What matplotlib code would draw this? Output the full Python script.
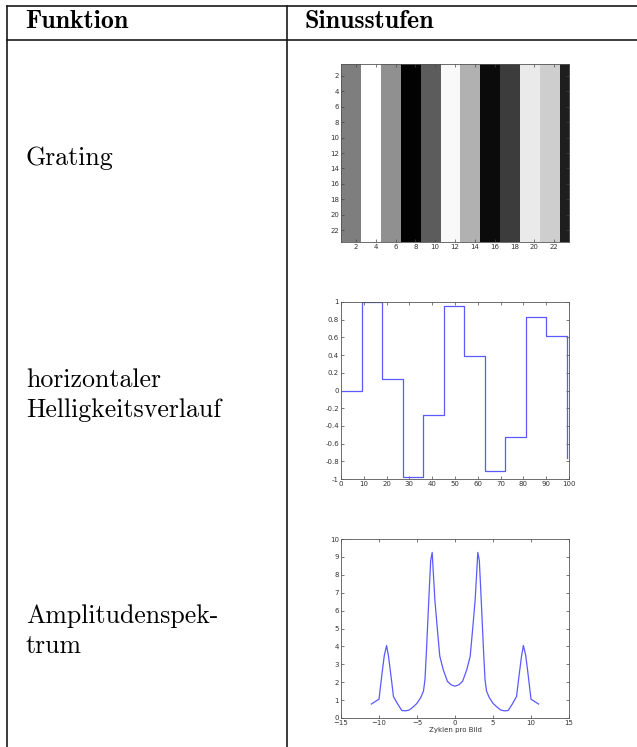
import numpy as np
import matplotlib
matplotlib.use("Agg")
import matplotlib.pyplot as plt
from matplotlib.lines import Line2D

# Sinusstufen: Stufenwerte (auch Grauwerte des Gratings)
stufen_kanten = [0, 9, 18, 27, 36, 45, 54, 63, 72, 81, 90, 99]
stufen_werte = [-0.01, 0.997, 0.13, -0.98, -0.275, 0.95, 0.39, -0.91, -0.52, 0.835, 0.615, -0.76]

# Grating 23x23, je Stufe 2 Spalten
grating_pixel = 23

# Amplitudenspektrum
spek_x = [-11.0, -10.0, -9.6, -9.3, -9.0, -8.75, -8.35, -8.1, -7.5, -7.0, -6.5, -6.0,
          -5.5, -5.0, -4.5, -4.15, -3.95, -3.75, -3.45, -3.2, -3.0, -2.85, -2.65,
          -2.35, -2.0, -1.55, -1.0, -0.5, 0.0,
          0.5, 1.0, 1.55, 2.0, 2.35, 2.65, 2.85, 3.0, 3.2, 3.45, 3.75, 3.95, 4.15,
          4.5, 5.0, 5.5, 6.0, 6.5, 7.0, 7.5, 8.1, 8.35, 8.75, 9.0, 9.3, 9.6, 10.0, 11.0]
spek_y = [0.78, 1.05, 2.5, 3.5, 4.05, 3.45, 2.1, 1.2, 0.75, 0.42, 0.4, 0.45,
          0.62, 0.82, 1.15, 1.5, 2.15, 3.8, 6.6, 8.8, 9.25, 8.1, 6.6,
          5.1, 3.45, 2.7, 2.05, 1.85, 1.78,
          1.85, 2.05, 2.7, 3.45, 5.1, 6.6, 8.1, 9.25, 8.8, 6.6, 3.8, 2.15, 1.5,
          1.15, 0.82, 0.62, 0.45, 0.4, 0.42, 0.75, 1.2, 2.1, 3.45, 4.05, 3.5, 2.5, 1.05, 0.78]

W, H = 637, 747
fig = plt.figure(figsize=(W / 100, H / 100), dpi=100)

def fx(px):
    return px / W

def fy(py):
    return 1 - py / H

# Tabellenlinien
lc = '#1a1a1a'
for (x0, y0, x1, y1) in [(7, 6, 637, 6), (7, 40, 637, 40), (7, 6, 7, 747), (287, 6, 287, 747)]:
    fig.add_artist(Line2D([fx(x0), fx(x1)], [fy(y0), fy(y1)], color=lc, lw=1.2,
                          transform=fig.transFigure))

serif = 'cmr10'
fs = 18.6
fig.text(fx(25), fy(28), 'Funktion', family='cmb10', fontsize=fs, va='baseline')
fig.text(fx(304), fy(28), 'Sinusstufen', family='cmb10', fontsize=fs, va='baseline')
fig.text(fx(26), fy(165), 'Grating', family=serif, fontsize=fs, va='baseline')
fig.text(fx(26), fy(387), 'horizontaler', family=serif, fontsize=fs, va='baseline')
fig.text(fx(26), fy(417), 'Helligkeitsverlauf', family=serif, fontsize=fs, va='baseline')
fig.text(fx(26), fy(623), 'Amplitudenspek-', family=serif, fontsize=fs, va='baseline')
fig.text(fx(26), fy(653), 'trum', family=serif, fontsize=fs, va='baseline')

def matlab_style(ax):
    ax.tick_params(direction='in', top=True, right=True, length=2.5, width=0.5,
                   labelsize=5, pad=1.5, colors='#444444', labelcolor='#333333')
    for s in ax.spines.values():
        s.set_color('#555555')
        s.set_linewidth(0.6)

def add_ax(left, top, right, bottom):
    return fig.add_axes([fx(left), fy(bottom), fx(right) - fx(left), (bottom - top) / H])

# 1) Grating
ax1 = add_ax(341, 64, 569, 242)
spalten = np.repeat(stufen_werte, 2)[:grating_pixel]
bild = np.tile(spalten, (grating_pixel, 1))
ax1.imshow(bild, cmap='gray', vmin=-1, vmax=1, aspect='auto', interpolation='nearest',
           extent=(0.5, grating_pixel + 0.5, grating_pixel + 0.5, 0.5))
ax1.set_xticks(range(2, 23, 2))
ax1.set_yticks(range(2, 23, 2))
matlab_style(ax1)

# 2) horizontaler Helligkeitsverlauf
ax2 = add_ax(341, 302, 569, 479)
ax2.step(stufen_kanten, stufen_werte, where='post', color='#5a5aff', lw=0.9)
ax2.set_xlim(0, 100)
ax2.set_ylim(-1, 1)
ax2.set_xticks(range(0, 101, 10))
yt = [-1, -0.8, -0.6, -0.4, -0.2, 0, 0.2, 0.4, 0.6, 0.8, 1]
ax2.set_yticks(yt)
ax2.set_yticklabels([('%g' % v) for v in yt])
matlab_style(ax2)

# 3) Amplitudenspektrum
ax3 = add_ax(341, 539, 569, 718)
ax3.plot(spek_x, spek_y, color='#5a5aff', lw=0.9)
ax3.set_xlim(-15, 15)
ax3.set_ylim(0, 10)
ax3.set_xticks(range(-15, 16, 5))
ax3.set_yticks(range(0, 11))
ax3.set_xlabel('Zyklen pro Bild', fontsize=5, labelpad=1, color='#333333')
matlab_style(ax3)

fig.savefig('out.png', dpi=100)
